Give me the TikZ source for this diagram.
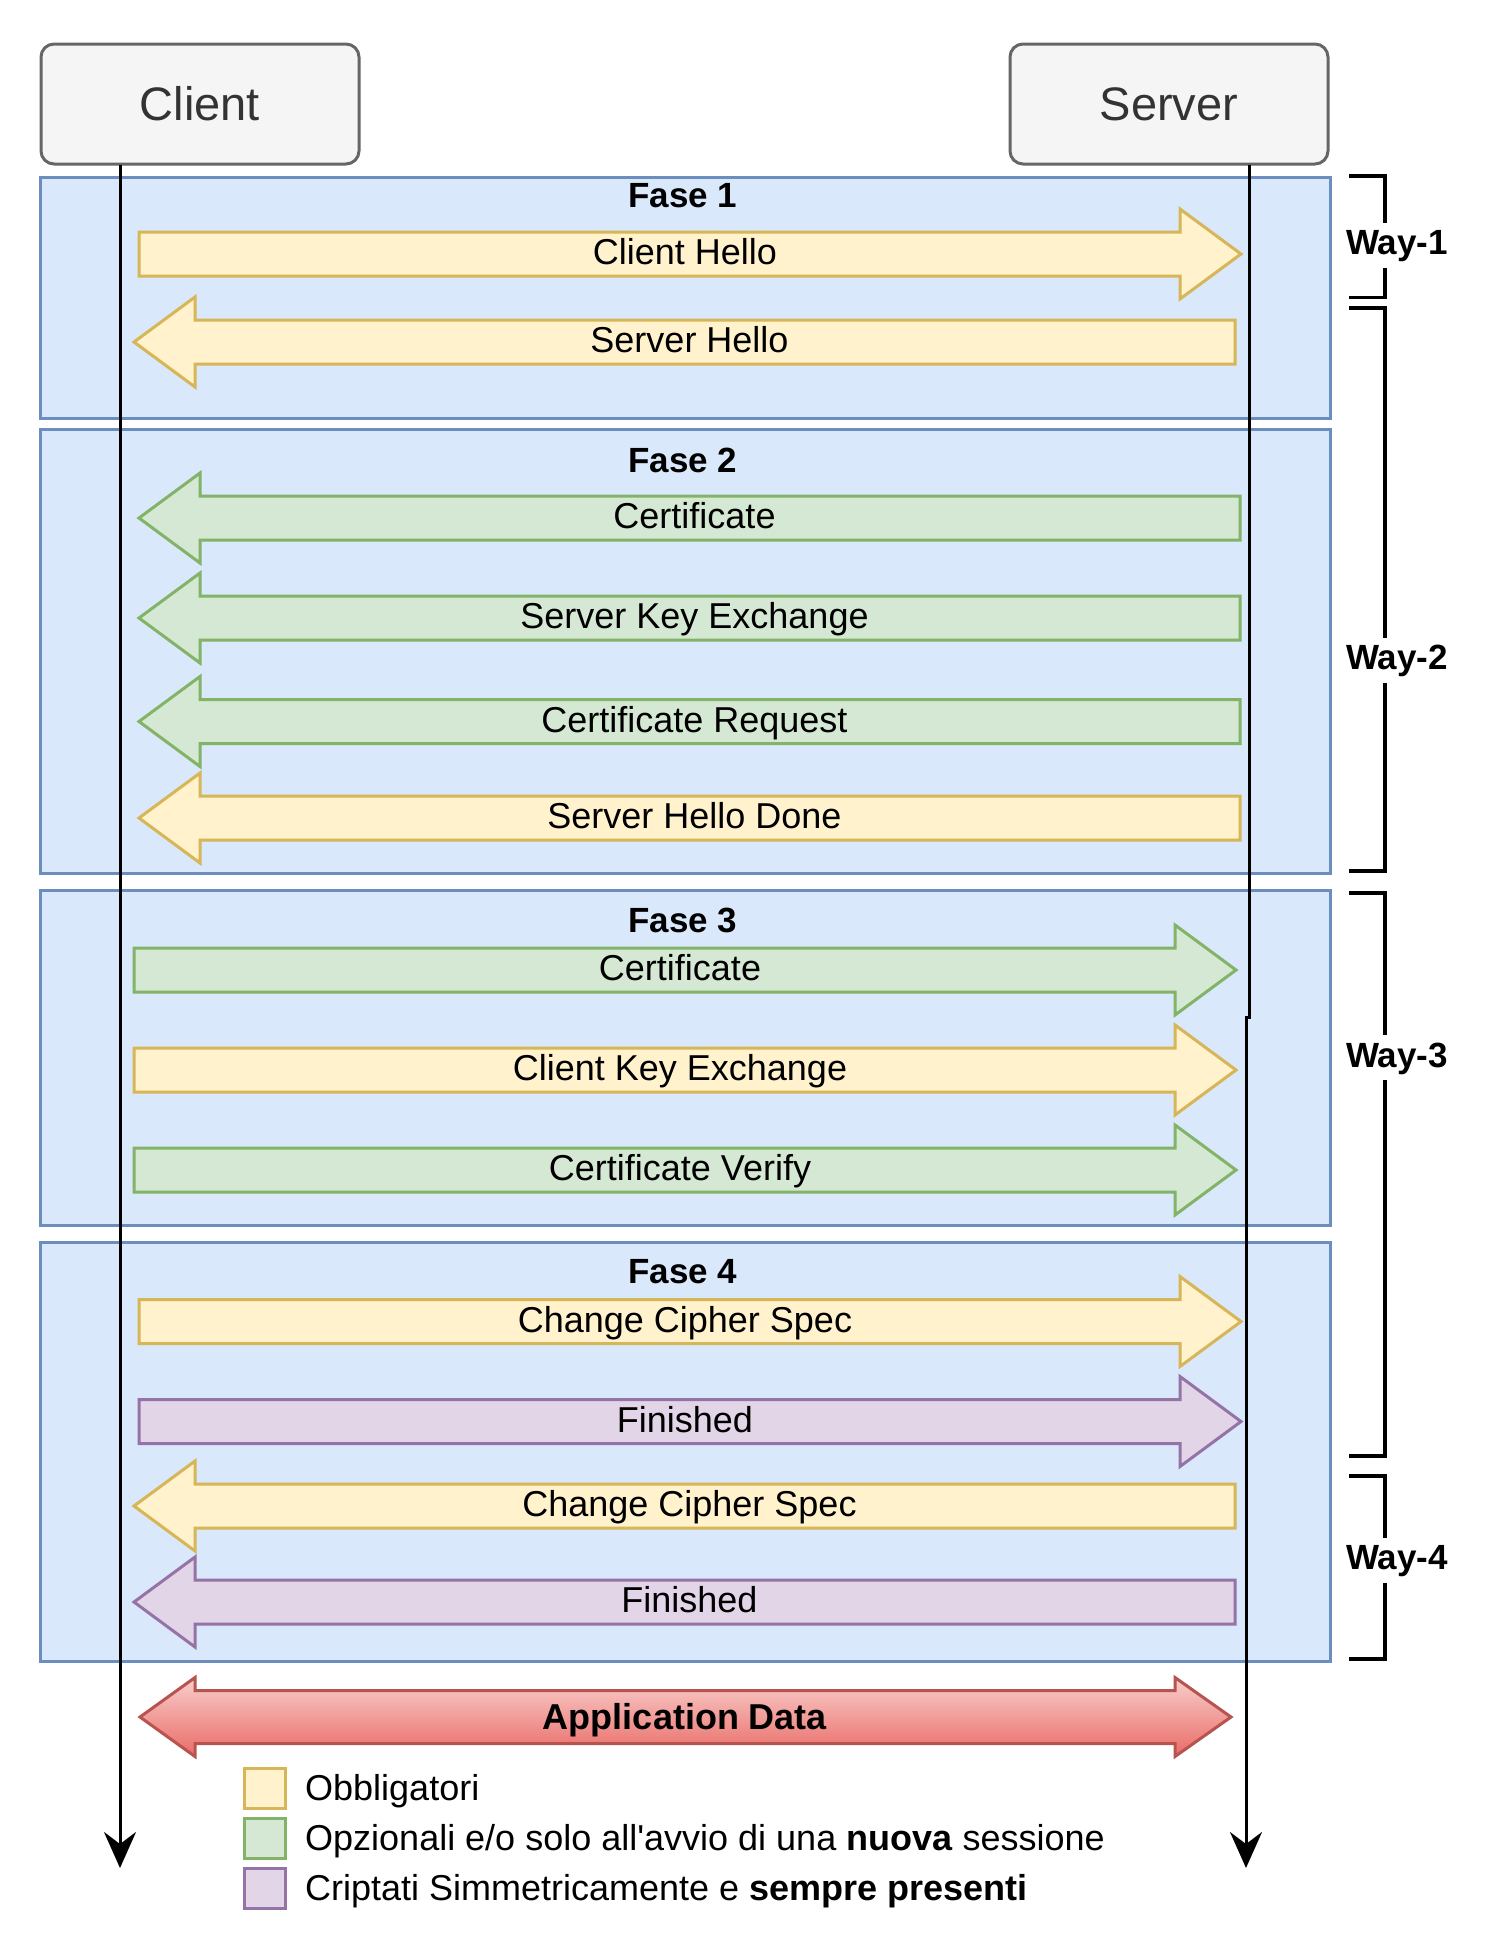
\documentclass[tikz,border=0pt]{standalone}
\usepackage{fontspec}
\setmainfont{Liberation Sans}[Ligatures=TeXOff]
\usetikzlibrary{arrows.meta}
\definecolor{yfill}{HTML}{FFF2CC}\definecolor{ydraw}{HTML}{D6B656}
\definecolor{gfill}{HTML}{D5E8D4}\definecolor{gdraw}{HTML}{82B366}
\definecolor{pfill}{HTML}{E1D5E7}\definecolor{pdraw}{HTML}{9673A6}
\definecolor{bfill}{HTML}{DAE8FC}\definecolor{bdraw}{HTML}{6C8EBF}
\definecolor{rtop}{HTML}{F8CECC}\definecolor{rbot}{HTML}{EA6B66}\definecolor{rdraw}{HTML}{B85450}
\definecolor{cfill}{HTML}{F5F5F5}\definecolor{cdraw}{HTML}{666666}\definecolor{ctext}{HTML}{333333}
\tikzset{
  lbl/.style={font=\fontsize{36}{43}\selectfont, text height=25pt, text depth=0pt, inner sep=0pt},
  msg/.style={font=\fontsize{36}{43}\selectfont, text height=21pt, text depth=0pt, inner sep=0pt},
  bold/.style={font=\fontsize{35}{42}\selectfont\bfseries, text height=25pt, text depth=0pt, inner sep=0pt},
  actor/.style={draw=cdraw, fill=cfill, line width=3pt, rounded corners=13pt, minimum width=318pt, minimum height=120pt, text=ctext, font=\fontsize{47}{56}\selectfont, text height=33.7pt, text depth=0pt, inner sep=0pt, outer sep=0pt},
  fase/.style={draw=bdraw, fill=bfill, line width=3pt, minimum width=1290pt, inner sep=0pt, outer sep=0pt},
  yel/.style={draw=ydraw, fill=yfill, line width=3pt},
  grn/.style={draw=gdraw, fill=gfill, line width=3pt},
  pur/.style={draw=pdraw, fill=pfill, line width=3pt},
  appd/.style={draw=rdraw, top color=rtop, bottom color=rbot, line width=3pt},
  life/.style={line width=3pt, -{Stealth[length=36pt, width=32pt, inset=12pt]}},
  brk/.style={line width=3.3pt},
  waylbl/.style={font=\fontsize{35}{42}\selectfont\bfseries, fill=white, text height=26pt, text depth=7pt, inner xsep=1pt, inner ysep=6pt},
  legbox/.style={line width=3pt, minimum width=41pt, minimum height=40pt, inner sep=0pt},
  legtxt/.style={lbl, anchor=west}
}
% right arrow: name, style, left x, tip x, y, label
\newcommand\rarr[6]{%
  \draw[#2] (#3,#5-22) -- (#4-61,#5-22) -- (#4-61,#5-45) -- (#4,#5) -- (#4-61,#5+45) -- (#4-61,#5+22) -- (#3,#5+22) -- cycle;
  \node[msg] (#1) at ({(#3+#4)/2-5},#5) {#6};}
% left arrow: name, style, tip x, right x, y, label
\newcommand\larr[6]{%
  \draw[#2] (#4,#5-22) -- (#3+61,#5-22) -- (#3+61,#5-45) -- (#3,#5) -- (#3+61,#5+45) -- (#3+61,#5+22) -- (#4,#5+22) -- cycle;
  \node[msg] (#1) at ({(#3+#4)/2+5},#5) {#6};}
\begin{document}
\begin{tikzpicture}[x=1pt, y=-1pt]
\useasboundingbox (0,0) rectangle (1504,1960);
% actors
\node[actor] (client) at (200,104) {Client};
\node[actor] (server) at (1169,104) {Server};
% phase boxes
\node[fase, minimum height=241pt] (f1) at (685,297.5) {};
\node[fase, minimum height=444pt] (f2) at (685,651) {};
\node[fase, minimum height=335pt] (f3) at (685,1057.5) {};
\node[fase, minimum height=419.5pt] (f4) at (685,1451.75) {};
\node[bold] (t1) at (683,195) {Fase 1};
\node[bold] (t2) at (683,459.5) {Fase 2};
\node[bold] (t3) at (683,920) {Fase 3};
\node[bold] (t4) at (683,1271) {Fase 4};
% way brackets
\draw[brk] (1349,176) -- (1385,176) -- (1385,297.5) -- (1349,297.5);
\draw[brk] (1349,308) -- (1385,308) -- (1385,871) -- (1349,871);
\draw[brk] (1349,893) -- (1385,893) -- (1385,1456) -- (1349,1456);
\draw[brk] (1349,1476) -- (1385,1476) -- (1385,1659) -- (1349,1659);
\node[waylbl] (w1) at (1397,245) {Way-1};
\node[waylbl] (w2) at (1397,660) {Way-2};
\node[waylbl] (w3) at (1397,1057.5) {Way-3};
\node[waylbl] (w4) at (1397,1560) {Way-4};
% lifelines
\coordinate (cl0) at (120,165);
\coordinate (cl1) at (120,1868);
\coordinate (sl0) at (1249,165);
\coordinate (sj1) at (1249,1017);
\coordinate (sj2) at (1246,1017);
\coordinate (sl1) at (1246,1868);
\draw[life] (cl0) -- (cl1);
\draw[life] (sl0) -- (sj1) -- (sj2) -- (sl1);
% Fase 1
\rarr{m1}{yel}{139}{1241}{254}{Client Hello}
\larr{m2}{yel}{134}{1235}{342}{Server Hello}
% Fase 2
\larr{m3}{grn}{139}{1240}{518}{Certificate}
\larr{m4}{grn}{139}{1240}{618}{Server Key Exchange}
\larr{m5}{grn}{139}{1240}{721.5}{Certificate Request}
\larr{m6}{yel}{139}{1240}{818}{Server Hello Done}
% Fase 3
\rarr{m7}{grn}{134}{1236}{970}{Certificate}
\rarr{m8}{yel}{134}{1236}{1070}{Client Key Exchange}
\rarr{m9}{grn}{134}{1236}{1170}{Certificate Verify}
% Fase 4
\rarr{m10}{yel}{139}{1241}{1321.5}{Change Cipher Spec}
\rarr{m11}{pur}{139}{1241}{1421.5}{Finished}
\larr{m12}{yel}{134}{1235}{1506}{Change Cipher Spec}
\larr{m13}{pur}{134}{1235}{1602}{Finished}
% application data
\path[appd] (195,1690.5) -- (1175,1690.5) -- (1175,1677.5) -- (1231,1717) -- (1175,1756.5) -- (1175,1743.5) -- (195,1743.5) -- (195,1756.5) -- (140,1717) -- (195,1677.5) -- cycle;
\node[bold, font=\fontsize{36}{43}\selectfont\bfseries] (ad) at (685,1717) {Application Data};
% legend
\node[legbox, draw=ydraw, fill=yfill] (k1) at (264.5,1788) {};
\node[legbox, draw=gdraw, fill=gfill] (k2) at (264.5,1838) {};
\node[legbox, draw=pdraw, fill=pfill] (k3) at (264.5,1888) {};
\node[legtxt] (l1) at (305,1788) {Obbligatori};
\node[legtxt] (l2) at (305,1838) {Opzionali e/o solo all'avvio di una \textbf{nuova} sessione};
\node[legtxt] (l3) at (305,1888) {Criptati Simmetricamente e \textbf{sempre presenti}};
\end{tikzpicture}
\end{document}
